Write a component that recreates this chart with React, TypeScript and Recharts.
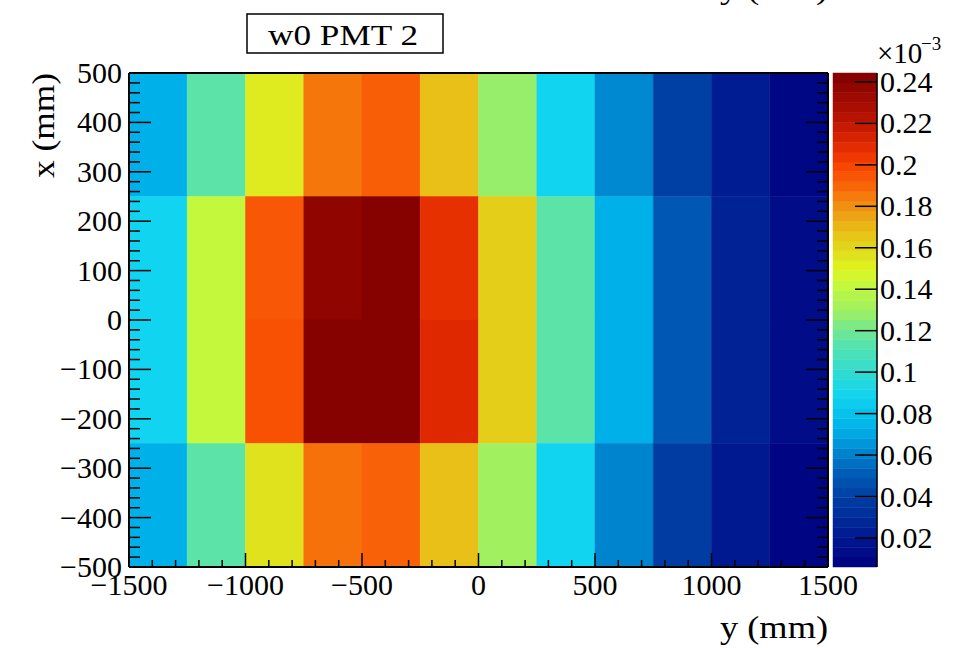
import React from "react";
import { ScatterChart, Scatter, XAxis, YAxis, ReferenceArea } from "recharts";

const FONT = "'Liberation Serif', 'DejaVu Serif', serif";

// bin lower edges, bin width 250 mm
const Y_EDGES = [-1500, -1250, -1000, -750, -500, -250, 0, 250, 500, 750, 1000, 1250];
const X_EDGES = [250, 0, -250, -500];
const BIN = 250;

// cell contents (x10^-3), one list per x row, left to right in y
const ROW_X250 = [0.072, 0.115, 0.153, 0.186, 0.192, 0.168, 0.128, 0.088, 0.062, 0.04, 0.022, 0.01];
const ROW_X0 = [0.088, 0.142, 0.194, 0.238, 0.242, 0.207, 0.163, 0.115, 0.072, 0.05, 0.025, 0.013];
const ROW_XM250 = [0.088, 0.142, 0.196, 0.242, 0.242, 0.21, 0.163, 0.115, 0.072, 0.05, 0.025, 0.013];
const ROW_XM500 = [0.072, 0.115, 0.156, 0.187, 0.191, 0.168, 0.13, 0.088, 0.061, 0.038, 0.02, 0.009];
const ROWS = [ROW_X250, ROW_X0, ROW_XM250, ROW_XM500];

const Z_MIN = 0.006;
const Z_MAX = 0.2443;
const Z_TICKS = [0.02, 0.04, 0.06, 0.08, 0.1, 0.12, 0.14, 0.16, 0.18, 0.2, 0.22, 0.24];
const N_BANDS = 50;

const PAL_VALUES = [0.006, 0.02, 0.04, 0.05, 0.062, 0.072, 0.088, 0.1, 0.115, 0.13, 0.142, 0.15, 0.158, 0.168, 0.18, 0.19, 0.2, 0.21, 0.225, 0.2443];
const PAL_COLORS = ["#000080", "#001890", "#0040a4", "#0058b4", "#0088d0", "#00b0e8", "#10d4f0", "#30dcd0", "#5ce4a8", "#a0f060", "#c4f83c", "#e0f420", "#e0dc1c", "#e8c018", "#f09010", "#f86408", "#f84400", "#e02800", "#b01000", "#800000"];

const X_TICKS: number[] = [];
for (let v = -1500; v <= 1500; v += 100) X_TICKS.push(v);
const Y_TICKS: number[] = [];
for (let v = -500; v <= 500; v += 20) Y_TICKS.push(v);

function hexToRgb(h: string) {
  return [1, 3, 5].map((i) => parseInt(h.slice(i, i + 2), 16));
}

function paletteColor(v: number) {
  if (v <= PAL_VALUES[0]) return PAL_COLORS[0];
  for (let i = 1; i < PAL_VALUES.length; i++) {
    if (v <= PAL_VALUES[i]) {
      const t = (v - PAL_VALUES[i - 1]) / (PAL_VALUES[i] - PAL_VALUES[i - 1]);
      const a = hexToRgb(PAL_COLORS[i - 1]);
      const b = hexToRgb(PAL_COLORS[i]);
      const c = a.map((ch, k) => Math.round(ch + (b[k] - ch) * t));
      return `rgb(${c[0]},${c[1]},${c[2]})`;
    }
  }
  return PAL_COLORS[PAL_COLORS.length - 1];
}

function fmt(v: number) {
  return v < 0 ? "\u2212" + Math.abs(v) : String(v);
}

const cells = ROWS.flatMap((row, r) =>
  row.map((z, c) => ({
    y1: Y_EDGES[c],
    y2: Y_EDGES[c] + BIN,
    x1: X_EDGES[r],
    x2: X_EDGES[r] + BIN,
    z,
  }))
);
const centers = cells.map((d) => ({ y: d.y1 + BIN / 2, x: d.x1 + BIN / 2 }));

// colour palette bands for the z scale
const bandStep = (Z_MAX - Z_MIN) / N_BANDS;
const bands = Array.from({ length: N_BANDS }, (_, i) => ({
  lo: Z_MIN + i * bandStep,
  hi: Z_MIN + (i + 1) * bandStep,
}));

const labelStyle = { fontFamily: FONT, fontSize: 30, fill: "#000" };

function BottomTick(props: any) {
  const { x, y, payload } = props;
  const major = payload.value % 500 === 0;
  return (
    <g>
      <line x1={x} x2={x} y1={y} y2={y - (major ? 14 : 7)} stroke="#000" strokeWidth={1.5} />
      {major && (
        <text x={x} y={y + 28} textAnchor="middle" {...labelStyle}>
          {fmt(payload.value)}
        </text>
      )}
    </g>
  );
}

function TopTick(props: any) {
  const { x, y, payload } = props;
  const major = payload.value % 500 === 0;
  return <line x1={x} x2={x} y1={y} y2={y + (major ? 14 : 7)} stroke="#000" strokeWidth={1.5} />;
}

function LeftTick(props: any) {
  const { x, y, payload } = props;
  const major = payload.value % 100 === 0;
  return (
    <g>
      <line x1={x} x2={x + (major ? 22 : 11)} y1={y} y2={y} stroke="#000" strokeWidth={1.5} />
      {major && (
        <text x={x - 7} y={y + 10} textAnchor="end" {...labelStyle}>
          {fmt(payload.value)}
        </text>
      )}
    </g>
  );
}

function RightTick(props: any) {
  const { x, y, payload } = props;
  const major = payload.value % 100 === 0;
  return <line x1={x} x2={x - (major ? 22 : 11)} y1={y} y2={y} stroke="#000" strokeWidth={1.5} />;
}

function ZTick(props: any) {
  const { x, y, payload } = props;
  return (
    <g>
      <line x1={x} x2={x - 22} y1={y} y2={y} stroke="#000" strokeWidth={1.5} />
      <text x={x + 3} y={y + 10} textAnchor="start" {...labelStyle}>
        {String(payload.value)}
      </text>
    </g>
  );
}

const frame = { stroke: "#000", strokeWidth: 2 };

export default function App() {
  return (
    <div style={{ position: "absolute", left: 0, top: 0, width: 969, height: 648, background: "#fff" }}>
      <div style={{ position: "absolute", left: 0, top: 0 }}>
        <ScatterChart width={969} height={648} margin={{ top: 63, right: 131, bottom: 41, left: 69 }}>
          {cells.map((d, i) => (
            <ReferenceArea
              key={i}
              x1={d.y1}
              x2={d.y2}
              y1={d.x1}
              y2={d.x2}
              fill={paletteColor(d.z)}
              fillOpacity={1}
              stroke={paletteColor(d.z)}
              strokeWidth={0.5}
            />
          ))}
          <Scatter data={centers} dataKey="x" shape={() => <g />} isAnimationActive={false} />
          <XAxis
            dataKey="y"
            type="number"
            domain={[-1500, 1500]}
            ticks={X_TICKS}
            interval={0}
            height={40}
            tickSize={0}
            tickMargin={0}
            tickLine={false}
            axisLine={frame}
            tick={<BottomTick />}
            allowDataOverflow
          />
          <XAxis
            xAxisId="t"
            orientation="top"
            type="number"
            domain={[-1500, 1500]}
            ticks={X_TICKS}
            interval={0}
            height={10}
            tickSize={0}
            tickMargin={0}
            tickLine={false}
            axisLine={frame}
            tick={<TopTick />}
            allowDataOverflow
          />
          <YAxis
            dataKey="x"
            type="number"
            domain={[-500, 500]}
            ticks={Y_TICKS}
            interval={0}
            width={60}
            tickSize={0}
            tickMargin={0}
            tickLine={false}
            axisLine={frame}
            tick={<LeftTick />}
            allowDataOverflow
          />
          <YAxis
            yAxisId="r"
            orientation="right"
            type="number"
            domain={[-500, 500]}
            ticks={Y_TICKS}
            interval={0}
            width={10}
            tickSize={0}
            tickMargin={0}
            tickLine={false}
            axisLine={frame}
            tick={<RightTick />}
            allowDataOverflow
          />
        </ScatterChart>
      </div>

      <div style={{ position: "absolute", left: 0, top: 0 }}>
        <ScatterChart width={969} height={648} margin={{ top: 73, right: 32, bottom: 81, left: 833 }}>
          {bands.map((b, i) => (
            <ReferenceArea
              key={i}
              x1={0}
              x2={1}
              y1={b.lo}
              y2={b.hi}
              fill={paletteColor((b.lo + b.hi) / 2)}
              fillOpacity={1}
              stroke={paletteColor((b.lo + b.hi) / 2)}
              strokeWidth={0.5}
            />
          ))}
          <Scatter data={[{ a: 0.5, b: 0.1 }]} dataKey="b" shape={() => <g />} isAnimationActive={false} />
          <XAxis dataKey="a" type="number" domain={[0, 1]} hide allowDataOverflow />
          <YAxis
            dataKey="b"
            orientation="right"
            type="number"
            domain={[Z_MIN, Z_MAX]}
            ticks={Z_TICKS}
            interval={0}
            width={60}
            tickSize={0}
            tickMargin={0}
            tickLine={false}
            axisLine={{ stroke: "#000", strokeWidth: 1.5 }}
            tick={<ZTick />}
            allowDataOverflow
          />
        </ScatterChart>
      </div>

      <svg width={969} height={648} style={{ position: "absolute", left: 0, top: 0, pointerEvents: "none" }}>
        <text x={828} y={-1} textAnchor="end" fontFamily={FONT} fontSize={30} textLength={108} lengthAdjust="spacingAndGlyphs">
          y (mm)
        </text>
        <rect x={247} y={14} width={196} height={39} fill="#fff" stroke="#000" strokeWidth={1.5} />
        <text x={343} y={45} textAnchor="middle" fontFamily={FONT} fontSize={30} textLength={150} lengthAdjust="spacingAndGlyphs">
          w0 PMT 2
        </text>
        <text x={828} y={638} textAnchor="end" fontFamily={FONT} fontSize={31} textLength={108} lengthAdjust="spacingAndGlyphs">
          y (mm)
        </text>
        <text
          transform="translate(54,73) rotate(-90)"
          textAnchor="end"
          fontFamily={FONT}
          fontSize={31}
          textLength={105}
          lengthAdjust="spacingAndGlyphs"
        >
          x (mm)
        </text>
        <text x={877} y={63} fontFamily={FONT} fontSize={29}>
          {"\u00d710"}
        </text>
        <text x={921} y={50} fontFamily={FONT} fontSize={19}>
          {"\u22123"}
        </text>
      </svg>
    </div>
  );
}
